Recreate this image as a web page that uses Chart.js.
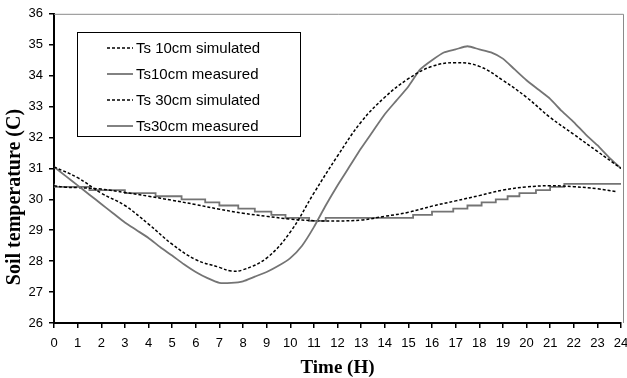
<!DOCTYPE html>
<html>
<head>
<meta charset="utf-8">
<script src="https://cdn.jsdelivr.net/npm/chart.js@4.4.1/dist/chart.umd.min.js"></script>
<style>
  html, body { margin: 0; padding: 0; background: #fff; }
  #wrap { width: 627px; height: 378px; position: relative; }
</style>
</head>
<body>
<div id="wrap"><canvas id="chart"></canvas></div>
<script>
// hours for each series
var simHours = [0, 1, 2, 3, 4, 5, 6, 7, 7.5, 8, 9, 10, 11, 12, 13, 14, 15, 16, 17, 18, 19, 20, 21, 22, 23, 24];
var ts10Sim = [31.05, 30.7, 30.2, 29.8, 29.2, 28.55, 28.05, 27.8, 27.68, 27.72, 28.1, 28.94, 30.2, 31.4, 32.5, 33.3, 33.9, 34.3, 34.42, 34.3, 33.85, 33.3, 32.65, 32.1, 31.55, 31.0];

var ts10MeasHours = [0, 0.5, 1, 1.5, 2, 2.5, 3, 3.5, 4, 4.5, 5, 5.5, 6, 6.5, 7, 7.5, 8, 8.5, 9, 9.5, 10, 10.5, 11, 11.5, 12,
  12.5, 13, 13.5, 14, 14.5, 15, 15.5, 16, 16.5, 17, 17.5, 18, 18.5, 19, 19.5, 20, 20.5, 21, 21.5, 22, 22.5, 23, 23.5, 24];
var ts10Meas = [31.05, 30.75, 30.45, 30.15, 29.85, 29.55, 29.25, 29.0, 28.75, 28.45, 28.18, 27.9, 27.65, 27.45, 27.3, 27.3, 27.35, 27.5, 27.65, 27.85, 28.1, 28.5, 29.1, 29.8, 30.45,
  31.05, 31.65, 32.2, 32.75, 33.2, 33.65, 34.2, 34.5, 34.75, 34.85, 34.95, 34.85, 34.75, 34.55, 34.2, 33.85, 33.55, 33.25, 32.85, 32.5, 32.1, 31.75, 31.35, 31.0];

var ts30SimHours = [0, 0.5, 1, 2, 3, 4, 5, 6, 7, 8, 9, 10, 11, 12, 13, 14, 15, 16, 17, 18, 19, 20, 21, 22, 23, 23.8];
var ts30Sim = [30.44, 30.39, 30.38, 30.33, 30.22, 30.1, 29.97, 29.83, 29.68, 29.55, 29.45, 29.36, 29.31, 29.3, 29.33, 29.45, 29.58, 29.78, 29.95, 30.12, 30.3, 30.4, 30.44, 30.41, 30.34, 30.25];

var ts30MeasHours = [0, 1.5, 3, 4.3, 5.4, 6.4, 7, 7.8, 8.5, 9.2, 9.8, 10.8, 11.5, 15.2, 16, 16.9, 17.5, 18.1, 18.7, 19.2, 19.7, 20.4, 21, 21.6, 23.3, 24];
var ts30Meas = [30.5, 30.4, 30.3, 30.2, 30.1, 30.0, 29.9, 29.8, 29.7, 29.6, 29.5, 29.4, 29.3, 29.4, 29.5, 29.6, 29.7, 29.8, 29.9, 30.0, 30.1, 30.2, 30.3, 30.4, 30.5, 30.5];

var seriesNames = ['Ts 10cm simulated', 'Ts10cm measured', 'Ts 30cm simulated', 'Ts30cm measured'];
var xTitle = 'Time (H)';
var yTitle = 'Soil temperature (C)';

function pts(hours, vals) {
  var out = [];
  for (var i = 0; i < hours.length; i++) out.push({ x: hours[i], y: vals[i] });
  return out;
}

var grey = '#747474';

var frameLegend = {
  id: 'frameLegend',
  afterDatasetsDraw: function(chart) {
    var ctx = chart.ctx;
    var a = chart.chartArea;
    ctx.save();
    // top/right frame
    ctx.strokeStyle = '#8a8a8a';
    ctx.lineWidth = 1;
    ctx.beginPath();
    ctx.moveTo(a.left, a.top + 0.5);
    ctx.lineTo(a.right + 2.5, a.top + 0.5);
    ctx.lineTo(a.right + 2.5, a.bottom);
    ctx.stroke();

    // legend box
    ctx.strokeStyle = '#000';
    ctx.lineWidth = 1;
    ctx.fillStyle = '#fff';
    ctx.fillRect(77, 32, 223, 104);
    ctx.strokeRect(77.5, 32.5, 223, 104);
    var ys = [48, 74, 100, 126];
    chart.data.datasets.forEach(function(ds, i) {
      ctx.strokeStyle = ds.borderColor;
      ctx.lineWidth = ds.borderWidth;
      ctx.setLineDash(ds.borderDash || []);
      ctx.beginPath();
      ctx.moveTo(107, ys[i]);
      ctx.lineTo(133, ys[i]);
      ctx.stroke();
      ctx.setLineDash([]);
      ctx.fillStyle = '#000';
      ctx.font = '15px "Liberation Sans", Arial, sans-serif';
      ctx.textBaseline = 'middle';
      ctx.textAlign = 'left';
      ctx.fillText(ds.label, 136, ys[i] + 1);
    });

    // y title
    ctx.translate(15, 197);
    ctx.rotate(-Math.PI / 2);
    ctx.font = 'bold 20px "Liberation Serif", "Times New Roman", serif';
    ctx.textAlign = 'center';
    ctx.textBaseline = 'middle';
    ctx.fillStyle = '#000';
    ctx.fillText(yTitle, 0, 0);
    ctx.restore();
  }
};

new Chart(document.getElementById('chart'), {
  type: 'line',
  data: {
    datasets: [
      { label: seriesNames[0], data: pts(simHours, ts10Sim), borderColor: '#000', borderWidth: 1.5, borderDash: [3, 2], tension: 0.4, pointRadius: 0 },
      { label: seriesNames[1], data: pts(ts10MeasHours, ts10Meas), borderColor: grey, borderWidth: 1.8, tension: 0.2, pointRadius: 0 },
      { label: seriesNames[2], data: pts(ts30SimHours, ts30Sim), borderColor: '#000', borderWidth: 1.5, borderDash: [3, 2], tension: 0.4, pointRadius: 0 },
      { label: seriesNames[3], data: pts(ts30MeasHours, ts30Meas), borderColor: grey, borderWidth: 1.8, stepped: 'after', pointRadius: 0 }
    ]
  },
  options: {
    responsive: true,
    maintainAspectRatio: false,
    animation: false,
    layout: { padding: { top: 12, right: 6, left: 0, bottom: 0 } },
    plugins: { legend: { display: false }, tooltip: { enabled: false } },
    scales: {
      x: {
        type: 'linear',
        min: 0, max: 24,
        afterFit: function(s) { s.height = 55; s.paddingRight = 6; s.paddingLeft = 0; },
        ticks: { stepSize: 1, color: '#000', padding: 8, maxRotation: 0, autoSkip: false,
          font: { family: '"Liberation Sans", Arial, sans-serif', size: 13 } },
        grid: { drawOnChartArea: false, color: '#000', tickLength: 5, lineWidth: 1.5 },
        border: { color: '#000', width: 2 },
        title: { display: true, text: xTitle, color: '#000', padding: { top: 0, bottom: 0 },
          font: { family: '"Liberation Serif", "Times New Roman", serif', size: 19, weight: 'bold', lineHeight: 1 } }
      },
      y: {
        min: 26, max: 36,
        afterFit: function(s) { s.width = 54; },
        ticks: { stepSize: 1, color: '#000', padding: 6,
          font: { family: '"Liberation Sans", Arial, sans-serif', size: 13 } },
        grid: { drawOnChartArea: false, color: '#000', tickLength: 5, lineWidth: 1.5 },
        border: { color: '#000', width: 2 }
      }
    }
  },
  plugins: [frameLegend]
});
</script>
</body>
</html>
